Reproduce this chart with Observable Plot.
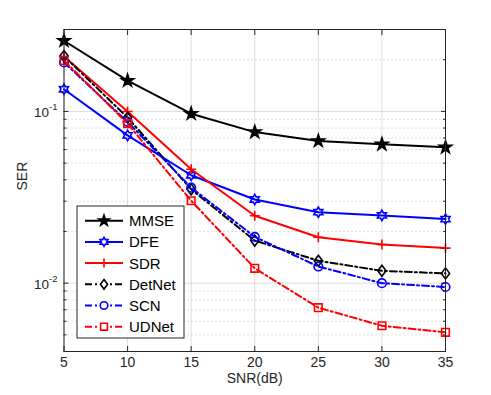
<!DOCTYPE html>
<html><head><meta charset="utf-8">
<script src="https://cdn.jsdelivr.net/npm/d3@7"></script>
<script src="https://cdn.jsdelivr.net/npm/@observablehq/plot@0.6"></script>
<style>body{margin:0;background:#fff;} svg{display:block}</style>
</head><body><div id="chart"></div>
<script>
const snr = [5, 10, 15, 20, 25, 30, 35];
const seriesNames = ["MMSE", "DFE", "SDR", "DetNet", "SCN", "UDNet"];
const mmse   = [0.258, 0.151, 0.097, 0.0758, 0.0673, 0.0643, 0.0618];
const dfe    = [0.1346, 0.0725, 0.0425, 0.0307, 0.0259, 0.0248, 0.0236];
const sdr    = [0.209, 0.100, 0.0461, 0.0247, 0.0185, 0.0168, 0.0160];
const detnet = [0.210, 0.092, 0.0352, 0.0177, 0.0135, 0.0118, 0.0114];
const scn    = [0.193, 0.087, 0.0360, 0.0186, 0.0125, 0.0100, 0.0095];
const udnet  = [0.198, 0.085, 0.0302, 0.0122, 0.0072, 0.00565, 0.00517];
const xTicks = [5, 10, 15, 20, 25, 30, 35];
const yMajorTicks = [0.01, 0.1];
const yMajorExponents = ["-2", "-1"];
const yMinorTicks = [0.004, 0.005, 0.006, 0.007, 0.008, 0.009,
  0.02, 0.03, 0.04, 0.05, 0.06, 0.07, 0.08, 0.09, 0.2, 0.3];
const xLabel = "SNR(dB)";
const yLabel = "SER";

function starSym(n, ratio) {
  return {draw(ctx, size) {
    const R = Math.sqrt(size / Math.PI);
    for (let i = 0; i < 2 * n; i++) {
      const a = -Math.PI / 2 + i * Math.PI / n;
      const r = i % 2 ? R * ratio : R;
      const x = r * Math.cos(a), y = r * Math.sin(a);
      if (i === 0) ctx.moveTo(x, y); else ctx.lineTo(x, y);
    }
    ctx.closePath();
  }};
}
const pentagram = starSym(5, 0.382);
const hexagram = starSym(6, 0.577);
const plusSym = {draw(ctx, size) { const R = Math.sqrt(size / Math.PI);
  ctx.moveTo(-R, 0); ctx.lineTo(R, 0); ctx.moveTo(0, -R); ctx.lineTo(0, R); }};
const diamondSym = {draw(ctx, size) { const R = Math.sqrt(size / Math.PI);
  ctx.moveTo(0, -R); ctx.lineTo(0.75 * R, 0); ctx.lineTo(0, R); ctx.lineTo(-0.75 * R, 0); ctx.closePath(); }};
const circleSym = {draw(ctx, size) { const R = Math.sqrt(size / Math.PI);
  ctx.moveTo(R, 0); ctx.arc(0, 0, R, 0, 2 * Math.PI); }};
const squareSym = {draw(ctx, size) { const R = Math.sqrt(size / Math.PI);
  ctx.rect(-R, -R, 2 * R, 2 * R); }};

const styles = [
  {color: "#000000", dash: null, sym: pentagram, r: 6.5, fill: true, lr: 5.5},
  {color: "#0000ff", dash: null, sym: hexagram, r: 5.2, fill: false, lr: 4.5},
  {color: "#ff0000", dash: null, sym: plusSym, r: 5, fill: false, lr: 4.5},
  {color: "#000000", dash: "7,3,2,3", sym: diamondSym, r: 5.5, fill: false, lr: 4.8},
  {color: "#0000ff", dash: "7,3,2,3", sym: circleSym, r: 4.3, fill: false, lr: 3.8},
  {color: "#ff0000", dash: "7,3,2,3", sym: squareSym, r: 3.8, fill: false, lr: 3.4}
];
const seriesValues = [mmse, dfe, sdr, detnet, scn, udnet];
const rows = seriesNames.flatMap((name, i) => snr.map((x, j) => ({name, snr: x, ser: seriesValues[i][j]})));

const font = "'Liberation Sans', Arial, Helvetica, sans-serif";
const axisColor = "#262626";
const mLeft = 63.5;

const marks = [
  Plot.ruleY(yMinorTicks, {stroke: "#000", strokeOpacity: 0.25, strokeDasharray: "1,3"}),
  Plot.ruleY(yMajorTicks, {stroke: "#000", strokeOpacity: 0.13}),
  Plot.ruleX(xTicks, {stroke: "#000", strokeOpacity: 0.13}),
];
seriesNames.forEach((name, i) => {
  const s = styles[i];
  const data = rows.filter(d => d.name === name);
  marks.push(Plot.line(data, {x: "snr", y: "ser", stroke: s.color, strokeWidth: 2,
    strokeDasharray: s.dash, strokeLinejoin: "round"}));
  marks.push(Plot.dot(data, {x: "snr", y: "ser", symbol: s.sym, r: s.r, stroke: s.color,
    fill: s.fill ? s.color : "none", strokeWidth: 1.6}));
});
marks.push(
  Plot.frame({stroke: axisColor, strokeWidth: 1}),
  Plot.axisX(xTicks, {anchor: "bottom", tickSize: -5, tickFormat: () => "", label: null, stroke: axisColor}),
  Plot.axisX(xTicks, {anchor: "top", tickSize: -5, tickFormat: () => "", label: null, stroke: axisColor}),
  Plot.axisY(yMajorTicks, {anchor: "left", tickSize: -5, tickFormat: () => "", label: null, stroke: axisColor}),
  Plot.axisY(yMajorTicks, {anchor: "right", tickSize: -5, tickFormat: () => "", label: null, stroke: axisColor}),
  Plot.axisY(yMinorTicks, {anchor: "left", tickSize: -3, tickFormat: () => "", label: null, stroke: axisColor}),
  Plot.axisY(yMinorTicks, {anchor: "right", tickSize: -3, tickFormat: () => "", label: null, stroke: axisColor}),
  Plot.text(xTicks, {x: d => d, frameAnchor: "bottom", dy: 15, fontSize: 14, fill: axisColor, text: d => String(d)}),
  Plot.text([yLabel], {frameAnchor: "left", dx: -41, rotate: -90, fontSize: 14, fill: axisColor}),
  Plot.text([xLabel], {frameAnchor: "bottom", dy: 31, fontSize: 14, fill: axisColor})
);

const chart = Plot.plot({
  width: 491, height: 395,
  marginLeft: mLeft, marginRight: 46, marginTop: 29, marginBottom: 44,
  style: {fontFamily: font, background: "#fff", overflow: "visible"},
  x: {domain: [5, 35], axis: null},
  y: {type: "log", domain: [0.004, 0.3], axis: null},
  marks
});
document.getElementById("chart").appendChild(chart);

const svg = d3.select(chart);
// y tick labels 10^-n with real superscripts, placed with the plot's y scale
const yScale = chart.scale("y");
yMajorTicks.forEach((v, i) => {
  const t = svg.append("text").attr("x", mLeft - 6).attr("y", yScale.apply(v)).attr("dy", "0.45em")
    .attr("text-anchor", "end").attr("font-size", 13.5).attr("fill", axisColor).attr("font-family", font);
  t.append("tspan").text("10");
  t.append("tspan").attr("font-size", 9.5).attr("dy", "-0.75em").text(yMajorExponents[i]);
});

// Legend box inside the plot frame
const lg = svg.append("g").attr("transform", "translate(77,206)");
const rowH = 21.2, boxW = 107, boxH = 132;
lg.append("rect").attr("x", 0).attr("y", 0).attr("width", boxW).attr("height", boxH)
  .attr("fill", "#fff").attr("stroke", axisColor).attr("stroke-width", 1);
seriesNames.forEach((name, i) => {
  const s = styles[i];
  const cy = 14.7 + i * rowH;
  lg.append("line").attr("x1", 8).attr("x2", 46).attr("y1", cy).attr("y2", cy)
    .attr("stroke", s.color).attr("stroke-width", 2).attr("stroke-dasharray", s.dash);
  const p = d3.path();
  s.sym.draw(p, Math.PI * s.lr * s.lr);
  lg.append("path").attr("d", p.toString()).attr("transform", `translate(27,${cy})`)
    .attr("stroke", s.color).attr("stroke-width", 1.6).attr("fill", s.fill ? s.color : "#fff");
  lg.append("text").attr("x", 52).attr("y", cy).attr("dy", "0.36em")
    .attr("text-anchor", "start")
    .attr("font-size", 15).attr("fill", "#000").attr("font-family", font).text(name);
});
</script></body></html>
